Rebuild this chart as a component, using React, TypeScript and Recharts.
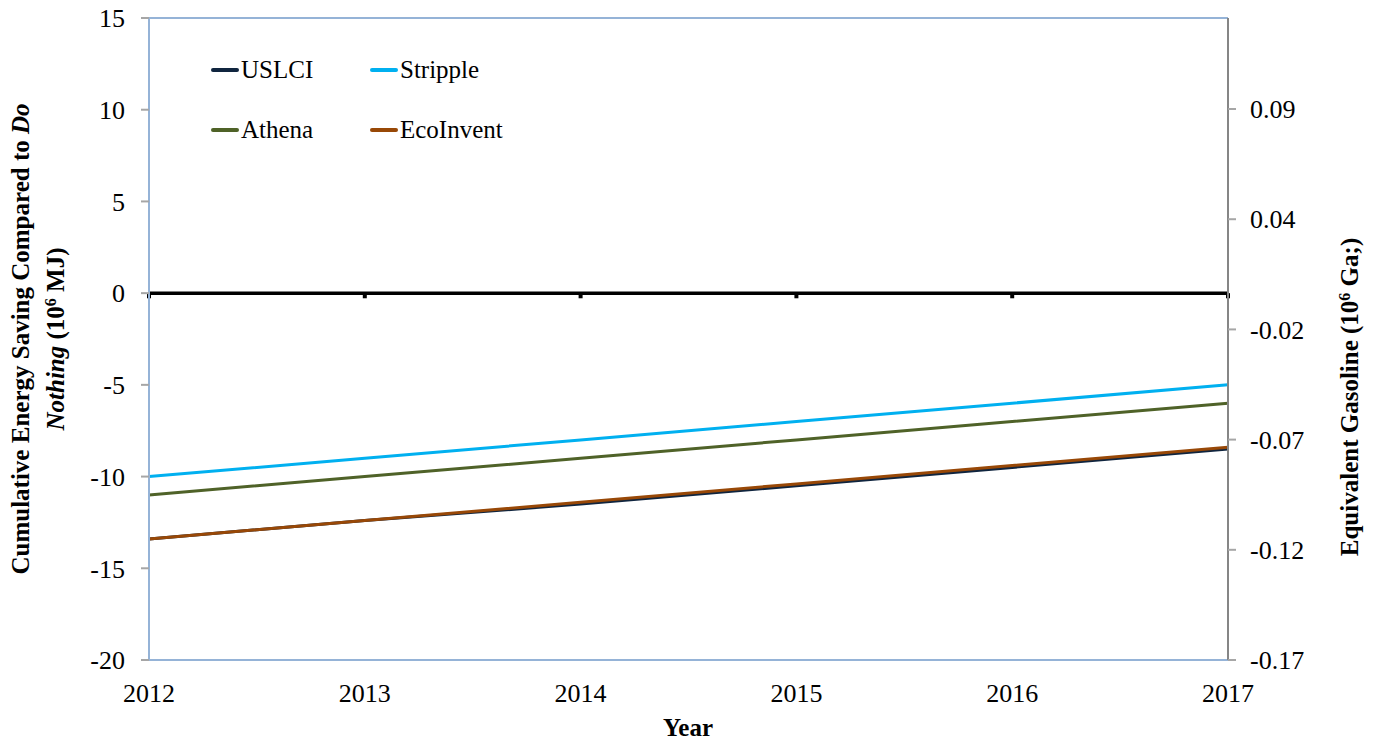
import {
  LineChart,
  Line,
  XAxis,
  YAxis,
  ReferenceLine,
} from "recharts";

const years = [2012, 2013, 2014, 2015, 2016, 2017];
const uslci = [-13.4, -12.4, -11.5, -10.5, -9.5, -8.5];
const stripple = [-10, -9, -8, -7, -6, -5];
const athena = [-11, -10, -9, -8, -7, -6];
const ecoinvent = [-13.4, -12.4, -11.4, -10.4, -9.4, -8.4];

const leftTicks = [-20, -15, -10, -5, 0, 5, 10, 15];
// gasoline axis: ticks sit at 0.05 steps from -0.165, printed rounded
const rightTicks = [-0.165, -0.115, -0.065, -0.015, 0.035, 0.085];
const rightLabels = ["-0.17", "-0.12", "-0.07", "-0.02", "0.04", "0.09"];

const series = [
  { key: "uslci", name: "USLCI", color: "#10253f" },
  { key: "stripple", name: "Stripple", color: "#00b0f0" },
  { key: "athena", name: "Athena", color: "#4f6228" },
  { key: "ecoinvent", name: "EcoInvent", color: "#984807" },
];

const data = years.map((year, i) => ({
  year,
  uslci: uslci[i],
  stripple: stripple[i],
  athena: athena[i],
  ecoinvent: ecoinvent[i],
}));

const FONT = "Liberation Serif";
const tickStyle = { fontSize: 26, fill: "#000", fontFamily: FONT };

function LegendBox() {
  return (
    <div
      style={{
        position: "absolute",
        left: 211,
        top: 53,
        display: "grid",
        gridTemplateColumns: "159px 159px",
        rowGap: 26,
        fontFamily: FONT,
        fontSize: 25,
        color: "#000",
        pointerEvents: "none",
      }}
    >
      {series.map((s) => (
        <div key={s.key} style={{ display: "flex", alignItems: "center", height: 34 }}>
          <span
            style={{
              display: "inline-block",
              width: 28,
              height: 4,
              borderRadius: 2,
              background: s.color,
              marginRight: 2,
            }}
          />
          {s.name}
        </div>
      ))}
    </div>
  );
}

function LeftTitle() {
  return (
    <text
      transform="translate(0,339) rotate(-90)"
      textAnchor="middle"
      fontFamily={FONT}
      fontWeight="bold"
      fontSize={25}
      fill="#000"
    >
      <tspan x={0} y={29}>
        Cumulative Energy Saving Compared to <tspan fontStyle="italic">Do</tspan>
      </tspan>
      <tspan x={0} y={64}>
        <tspan fontStyle="italic">Nothing</tspan> (10
        <tspan fontSize={16} baselineShift="super">6</tspan> MJ)
      </tspan>
    </text>
  );
}

function RightTitle() {
  return (
    <text
      transform="translate(1358,397) rotate(-90)"
      textAnchor="middle"
      fontFamily={FONT}
      fontWeight="bold"
      fontSize={25}
      fill="#000"
    >
      Equivalent Gasoline (10
      <tspan fontSize={16} baselineShift="super">6</tspan> Ga;)
    </text>
  );
}

function YearTitle() {
  return (
    <text
      x={688}
      y={736}
      textAnchor="middle"
      fontFamily={FONT}
      fontWeight="bold"
      fontSize={25}
      fill="#000"
    >
      Year
    </text>
  );
}

export default function App() {
  return (
    <div
      style={{
        position: "absolute",
        left: 0,
        top: 0,
        width: 1375,
        height: 744,
        background: "#fff",
        fontFamily: FONT,
      }}
    >
      <LineChart
        width={1375}
        height={744}
        data={data}
        margin={{ top: 18, right: 0, bottom: 0, left: 0 }}
        style={{ fontFamily: FONT }}
      >
        <XAxis
          dataKey="year"
          type="number"
          domain={[2012, 2017]}
          ticks={years}
          height={84}
          tickLine={false}
          tickSize={8}
          tickMargin={16}
          axisLine={{ stroke: "#95b3d7", strokeWidth: 2 }}
          tick={tickStyle}
          label={<YearTitle />}
        />
        <YAxis
          yAxisId="left"
          domain={[-20, 15]}
          ticks={leftTicks}
          width={149}
          tickSize={8}
          tickMargin={16}
          axisLine={{ stroke: "#95b3d7", strokeWidth: 2 }}
          tickLine={{ stroke: "#a6a6a6", strokeWidth: 2 }}
          tick={tickStyle}
          label={<LeftTitle />}
        />
        <YAxis
          yAxisId="right"
          orientation="right"
          type="number"
          domain={[-0.165, 0.1263]}
          allowDataOverflow
          ticks={rightTicks}
          interval={0}
          tickFormatter={(v: number) => {
            const i = rightTicks.findIndex((t) => Math.abs(t - v) < 1e-6);
            return i >= 0 ? rightLabels[i] : "";
          }}
          width={147}
          tickSize={8}
          tickMargin={14}
          axisLine={{ stroke: "#868686", strokeWidth: 2 }}
          tickLine={{ stroke: "#a6a6a6", strokeWidth: 2 }}
          tick={tickStyle}
          label={<RightTitle />}
        />
        <ReferenceLine yAxisId="left" y={15} stroke="#95b3d7" strokeWidth={2} />
        {series.map((s) => (
          <Line
            key={s.key}
            yAxisId="left"
            dataKey={s.key}
            name={s.name}
            stroke={s.color}
            strokeWidth={3}
            dot={false}
            isAnimationActive={false}
          />
        ))}
        <ReferenceLine yAxisId="left" y={0} stroke="#000" strokeWidth={3.5} />
        {years.map((y) => (
          <ReferenceLine
            key={y}
            yAxisId="left"
            segment={[
              { x: y, y: 0 },
              { x: y, y: -0.28 },
            ]}
            stroke="#000"
            strokeWidth={4}
          />
        ))}
      </LineChart>
      <LegendBox />
    </div>
  );
}
